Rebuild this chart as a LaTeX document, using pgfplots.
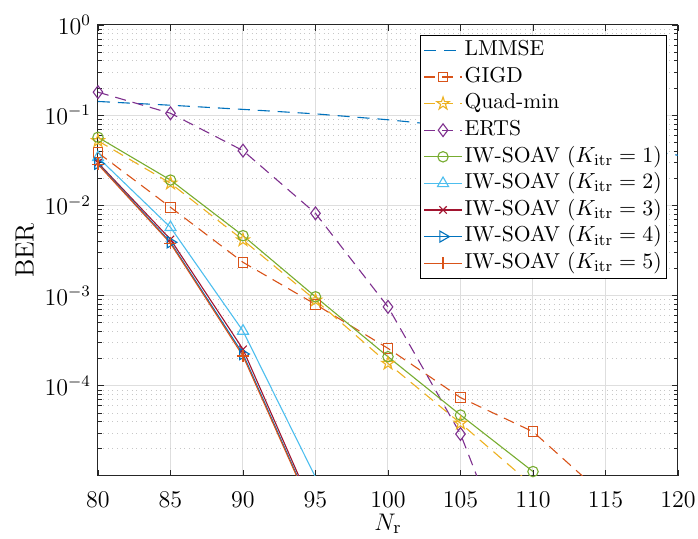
\documentclass[border=0pt]{standalone}
\usepackage{pgfplots}
\pgfplotsset{compat=1.18}
\definecolor{c1}{rgb}{0,0.447,0.741}
\definecolor{c2}{rgb}{0.85,0.325,0.098}
\definecolor{c3}{rgb}{0.929,0.694,0.125}
\definecolor{c4}{rgb}{0.494,0.184,0.556}
\definecolor{c5}{rgb}{0.466,0.674,0.188}
\definecolor{c6}{rgb}{0.301,0.745,0.933}
\definecolor{c7}{rgb}{0.635,0.078,0.184}
\pgfdeclareplotmark{pentagram}{%
  \pgfpathmoveto{\pgfqpoint{0pt}{\pgfplotmarksize}}%
  \pgfpathlineto{\pgfqpoint{-0.2245\pgfplotmarksize}{0.309\pgfplotmarksize}}%
  \pgfpathlineto{\pgfqpoint{-0.951\pgfplotmarksize}{0.309\pgfplotmarksize}}%
  \pgfpathlineto{\pgfqpoint{-0.363\pgfplotmarksize}{-0.118\pgfplotmarksize}}%
  \pgfpathlineto{\pgfqpoint{-0.588\pgfplotmarksize}{-0.809\pgfplotmarksize}}%
  \pgfpathlineto{\pgfqpoint{0pt}{-0.382\pgfplotmarksize}}%
  \pgfpathlineto{\pgfqpoint{0.588\pgfplotmarksize}{-0.809\pgfplotmarksize}}%
  \pgfpathlineto{\pgfqpoint{0.363\pgfplotmarksize}{-0.118\pgfplotmarksize}}%
  \pgfpathlineto{\pgfqpoint{0.951\pgfplotmarksize}{0.309\pgfplotmarksize}}%
  \pgfpathlineto{\pgfqpoint{0.2245\pgfplotmarksize}{0.309\pgfplotmarksize}}%
  \pgfpathclose\pgfusepathqstroke}
\begin{document}
\begin{tikzpicture}
\begin{axis}[
  at={(0,0)}, anchor=south west,
  scale only axis, width=290pt, height=225.5pt,
  xmin=80, xmax=120, ymode=log, ymin=1e-5, ymax=1,
  xtick={80,85,...,120},
  ytick={1e-4,1e-3,1e-2,1e-1,1},
  minor ytick={2e-5,3e-5,4e-5,5e-5,6e-5,7e-5,8e-5,9e-5,
               2e-4,3e-4,4e-4,5e-4,6e-4,7e-4,8e-4,9e-4,
               2e-3,3e-3,4e-3,5e-3,6e-3,7e-3,8e-3,9e-3,
               2e-2,3e-2,4e-2,5e-2,6e-2,7e-2,8e-2,9e-2,
               2e-1,3e-1,4e-1,5e-1,6e-1,7e-1,8e-1,9e-1},
  minor x tick num=0,
  xtick pos=both, ytick pos=both,
  tick align=inside,
  xmajorgrids, ymajorgrids, yminorgrids,
  major grid style={black!13, line width=0.5pt},
  minor grid style={black!22, dotted, line width=0.4pt},
  axis line style={black!85, line width=0.5pt},
  tick style={black!85, line width=0.4pt},
  major tick length=3pt, minor tick length=2pt,
  tick label style={font=\fontsize{12}{14}\selectfont},
  xticklabel style={yshift=-4.5pt},
  label style={font=\fontsize{13.2}{15}\selectfont},
  xlabel={$N_{\mathrm{r}}$}, ylabel={BER},
  xlabel style={at={(axis description cs:0.5,-0.106)}, anchor=center},
  ylabel style={at={(axis description cs:-0.126,0.5)}, anchor=center},
  legend cell align=left,
  legend style={at={(rel axis cs:1,1)}, anchor=north east, xshift=-5.4pt, yshift=-5pt,
    font=\fontsize{10.8}{12}\selectfont, draw=black, line width=0.5pt,
    inner xsep=1.5pt, inner ysep=0.8pt,
    nodes={inner sep=1pt, text height=8.3pt, text depth=3pt}},
  legend image code/.code={\draw[mark repeat=2,mark phase=2,#1] plot coordinates {(0pt,0pt)(9.5pt,0pt)(19pt,0pt)};},
  every axis plot/.append style={line width=0.55pt},
]
\addplot[c1, dash pattern=on 6pt off 4pt] coordinates {
(80,0.142)(85,0.129)(90,0.116)(95,0.1035)(100,0.089)(105,0.074)(110,0.060)(115,0.048)(120,0.036)};
\addlegendentry{LMMSE}
\addplot[c2, dash pattern=on 5.5pt off 3.5pt, mark=square, mark size=2.4pt, mark options={solid}] coordinates {
(80,0.0384)(85,0.00953)(90,0.00234)(95,8.0e-4)(100,2.6e-4)(105,7.4e-5)(110,3.1e-5)(115,5.9e-6)};
\addlegendentry{GIGD}
\addplot[c3, dash pattern=on 5.5pt off 3.5pt, mark=pentagram, mark size=3.3pt, mark options={solid}] coordinates {
(80,0.052)(85,0.0176)(90,0.00413)(95,8.9e-4)(100,1.77e-4)(105,3.84e-5)(110,7.8e-6)};
\addlegendentry{Quad-min}
\addplot[c4, dash pattern=on 5.5pt off 3.5pt, mark=diamond, mark size=3.2pt, mark options={solid}] coordinates {
(80,0.18)(85,0.105)(90,0.0405)(95,0.00817)(100,7.5e-4)(105,2.92e-5)(110,2.5e-7)};
\addlegendentry{ERTS}
\addplot[c5, mark=o, mark size=2.6pt] coordinates {
(80,0.0569)(85,0.0191)(90,0.00462)(95,9.7e-4)(100,2.1e-4)(105,4.74e-5)(110,1.12e-5)};
\addlegendentry{IW-SOAV ($K_{\mathrm{itr}}=1$)}
\addplot[c6, mark=triangle, mark size=3.2pt] coordinates {
(80,0.034)(85,0.00571)(90,4.05e-4)(95,9.7e-6)};
\addlegendentry{IW-SOAV ($K_{\mathrm{itr}}=2$)}
\addplot[c7, mark=x, mark size=2.6pt] coordinates {
(80,0.0297)(85,0.0042)(90,2.54e-4)(95,3.8e-6)};
\addlegendentry{IW-SOAV ($K_{\mathrm{itr}}=3$)}
\addplot[c1, mark=triangle, mark size=3.2pt, mark options={rotate=-90}] coordinates {
(80,0.029)(85,0.0039)(90,2.25e-4)(95,3.5e-6)};
\addlegendentry{IW-SOAV ($K_{\mathrm{itr}}=4$)}
\addplot[c2, mark=+, mark size=3pt] coordinates {
(80,0.0285)(85,0.0038)(90,2.14e-4)(95,3.4e-6)};
\addlegendentry{IW-SOAV ($K_{\mathrm{itr}}=5$)}
\end{axis}
\pgfresetboundingbox
\path (-49pt,-31.5pt) rectangle (300pt,238pt);
\end{tikzpicture}
\end{document}
